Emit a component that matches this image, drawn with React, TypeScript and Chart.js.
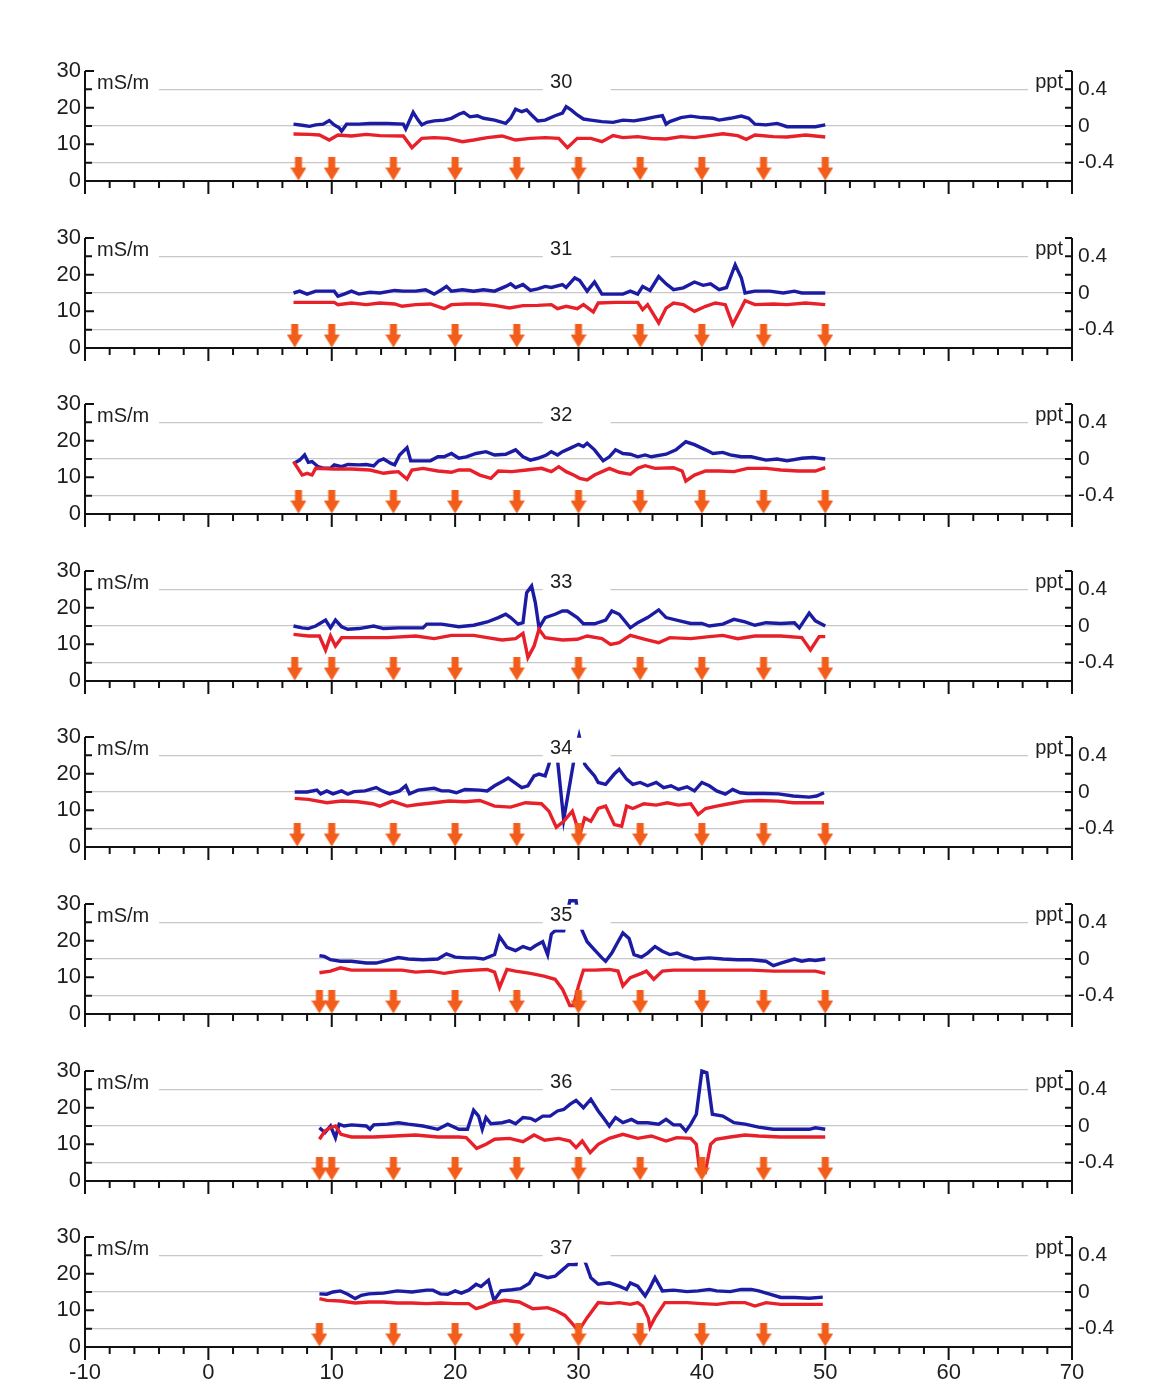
import React, { useEffect, useRef } from 'react';
import { Chart, registerables } from 'chart.js';

Chart.register(...registerables);

type Pt = [number, number];

const PANEL_IDS = ['30', '31', '32', '33', '34', '35', '36', '37'];
const X_LABELS = [-10, 0, 10, 20, 30, 40, 50, 60, 70];
const LEFT_LABELS = [0, 10, 20, 30];
const RIGHT_LABELS = [-0.4, 0, 0.4];
const UNIT_LEFT = 'mS/m';
const UNIT_RIGHT = 'ppt';

// ---- Panel 30 ----
const BLUE_30: Pt[] = [[6.9,15.5],[7.6,15.2],[8.2,14.9],[8.7,15.3],[9.3,15.5],[9.8,16.5],[10.2,15.3],[10.6,14.5],[10.8,13.6],[11.2,15.5],[12.2,15.5],[13.1,15.7],[14.5,15.7],[15.8,15.5],[16.0,14.2],[16.6,18.7],[17.0,16.6],[17.3,15.3],[17.7,16.0],[18.3,16.4],[19.1,16.6],[19.7,17.1],[20.3,18.2],[20.7,18.7],[21.2,17.5],[21.8,17.8],[22.3,17.1],[23.2,16.6],[24.1,15.7],[24.5,17.1],[24.9,19.6],[25.4,18.9],[25.8,19.4],[26.2,18.0],[26.7,16.4],[27.3,16.6],[28.1,17.8],[28.7,18.5],[29.0,20.3],[29.4,19.4],[29.9,18.0],[30.4,16.9],[31.0,16.6],[31.9,16.2],[32.8,16.0],[33.6,16.6],[34.5,16.4],[35.4,16.9],[36.2,17.5],[36.8,17.8],[37.1,15.5],[37.4,16.2],[38.3,17.3],[39.1,17.7],[40.0,17.3],[40.9,17.1],[41.4,16.6],[42.3,17.1],[43.2,17.7],[43.8,17.1],[44.3,15.5],[45.2,15.3],[46.1,15.7],[46.9,14.8],[48.1,14.8],[49.2,14.8],[50.0,15.3]];
const RED_30: Pt[] = [[6.9,-0.087],[8.2,-0.091],[9.0,-0.098],[9.8,-0.153],[10.5,-0.098],[11.6,-0.109],[12.8,-0.091],[13.9,-0.105],[15.8,-0.109],[16.5,-0.236],[17.3,-0.135],[18.3,-0.127],[19.4,-0.135],[20.6,-0.171],[21.5,-0.153],[22.6,-0.127],[23.8,-0.109],[24.9,-0.153],[26.1,-0.135],[27.3,-0.127],[28.4,-0.135],[29.1,-0.236],[29.9,-0.135],[31.0,-0.135],[31.9,-0.171],[32.8,-0.105],[33.6,-0.127],[34.8,-0.116],[35.9,-0.135],[37.1,-0.142],[38.3,-0.116],[39.4,-0.127],[40.6,-0.105],[41.7,-0.084],[42.9,-0.105],[43.6,-0.145],[44.3,-0.098],[45.8,-0.116],[46.9,-0.12],[48.4,-0.098],[50.0,-0.12]];
const ARROWS_30 = [7.3, 10, 15, 20, 25, 30, 35, 40, 45, 50];

// ---- Panel 31 ----
const BLUE_31: Pt[] = [[6.9,15.0],[7.4,15.5],[8.0,14.7],[8.7,15.5],[10.2,15.5],[10.5,14.1],[11.0,14.7],[11.6,15.5],[12.2,14.7],[13.1,15.2],[13.9,15.0],[15.1,15.7],[15.8,15.5],[16.8,15.5],[17.6,15.9],[18.3,14.7],[18.9,15.9],[19.3,16.8],[19.7,15.5],[20.6,15.9],[21.5,15.5],[22.3,15.9],[23.2,15.5],[24.1,16.8],[24.5,17.5],[24.9,16.5],[25.5,17.3],[26.1,15.7],[26.7,16.1],[27.3,16.8],[27.8,16.5],[28.7,17.3],[29.0,16.5],[29.7,19.1],[30.1,18.4],[30.7,15.5],[31.3,18.0],[31.9,14.7],[32.7,14.7],[33.6,14.7],[34.2,15.5],[34.8,14.7],[35.2,16.8],[35.8,15.7],[36.5,19.5],[37.1,17.5],[37.7,15.9],[38.5,16.4],[39.4,18.0],[40.1,17.1],[40.7,17.5],[41.4,15.9],[42.0,16.5],[42.7,22.7],[43.2,19.1],[43.5,15.0],[44.3,15.5],[45.5,15.5],[46.6,15.0],[47.5,15.5],[48.1,15.0],[50.0,15.0]];
const RED_31: Pt[] = [[6.9,-0.102],[10.2,-0.102],[10.5,-0.127],[11.6,-0.109],[12.8,-0.127],[13.9,-0.109],[15.1,-0.12],[15.7,-0.145],[16.8,-0.127],[18.0,-0.12],[19.1,-0.171],[19.7,-0.127],[20.9,-0.12],[22.0,-0.12],[23.2,-0.135],[24.4,-0.164],[25.5,-0.138],[26.7,-0.135],[27.8,-0.127],[28.3,-0.171],[29.0,-0.145],[29.9,-0.171],[30.4,-0.127],[31.2,-0.207],[31.6,-0.109],[33.0,-0.102],[34.8,-0.102],[35.2,-0.182],[35.6,-0.127],[36.5,-0.327],[37.1,-0.164],[37.7,-0.109],[38.5,-0.127],[39.4,-0.2],[40.3,-0.145],[41.1,-0.109],[41.9,-0.127],[42.5,-0.345],[43.2,-0.164],[43.5,-0.084],[44.3,-0.127],[45.8,-0.12],[46.9,-0.127],[48.4,-0.109],[50.0,-0.127]];
const ARROWS_31 = [7, 10, 15, 20, 25, 30, 35, 40, 45, 50];

// ---- Panel 32 ----
const BLUE_32: Pt[] = [[6.9,13.8],[7.4,14.7],[7.8,16.1],[8.1,14.1],[8.4,14.3],[8.9,12.9],[9.3,12.5],[9.9,12.5],[10.2,13.4],[10.8,12.9],[11.3,13.5],[12.2,13.4],[12.8,13.5],[13.4,13.1],[13.8,14.5],[14.2,15.0],[14.8,13.8],[15.1,13.4],[15.5,16.1],[16.1,18.1],[16.4,14.5],[17.4,14.5],[18.0,14.5],[18.6,15.6],[19.1,15.6],[19.7,16.5],[20.3,15.2],[20.9,15.6],[21.7,16.5],[22.5,17.0],[23.2,16.1],[24.1,16.3],[24.9,17.5],[25.5,15.6],[26.1,14.7],[26.7,15.2],[27.4,16.1],[27.8,17.0],[28.3,16.1],[28.7,17.0],[29.3,17.9],[30.0,19.0],[30.4,18.4],[30.7,19.3],[31.3,17.5],[32.0,14.5],[32.5,15.6],[33.0,17.5],[33.6,16.5],[34.2,16.3],[34.8,15.6],[35.4,16.1],[35.9,15.6],[37.1,16.3],[37.9,17.5],[38.7,19.7],[39.4,18.9],[40.3,17.5],[40.9,16.5],[41.7,16.8],[42.3,16.1],[43.2,15.6],[44.0,15.6],[45.2,14.7],[46.1,15.0],[46.9,14.5],[48.1,15.2],[49.0,15.4],[50.0,15.0]];
const RED_32: Pt[] = [[6.9,-0.029],[7.6,-0.175],[8.0,-0.156],[8.4,-0.175],[8.7,-0.102],[10.2,-0.109],[11.6,-0.109],[13.1,-0.12],[14.2,-0.156],[14.8,-0.145],[15.4,-0.138],[16.1,-0.218],[16.5,-0.12],[17.4,-0.102],[18.6,-0.131],[19.7,-0.145],[20.3,-0.12],[21.2,-0.12],[22.0,-0.175],[22.9,-0.211],[23.5,-0.131],[24.6,-0.138],[25.8,-0.12],[27.0,-0.102],[27.8,-0.138],[28.4,-0.084],[29.0,-0.138],[29.6,-0.175],[30.1,-0.211],[30.7,-0.229],[31.3,-0.175],[32.5,-0.102],[33.3,-0.145],[34.2,-0.167],[34.8,-0.102],[35.4,-0.073],[36.2,-0.102],[37.7,-0.095],[38.4,-0.131],[38.7,-0.24],[39.4,-0.175],[40.3,-0.131],[41.4,-0.131],[42.6,-0.138],[43.7,-0.102],[45.2,-0.102],[46.4,-0.12],[47.8,-0.131],[49.2,-0.131],[50.0,-0.095]];
const ARROWS_32 = [7.3, 10, 15, 20, 25, 30, 35, 40, 45, 50];

// ---- Panel 33 ----
const BLUE_33: Pt[] = [[6.9,15.0],[7.6,14.5],[8.1,14.3],[8.7,15.0],[9.5,16.6],[9.9,14.5],[10.3,16.6],[10.8,14.8],[11.3,14.1],[12.2,14.3],[13.4,15.0],[14.2,14.3],[15.4,14.5],[17.4,14.5],[17.7,15.5],[18.9,15.5],[20.3,14.8],[21.5,15.2],[22.6,16.1],[23.5,17.3],[24.1,18.2],[24.5,17.3],[25.1,15.5],[25.5,15.9],[25.8,24.1],[26.2,25.9],[26.5,21.4],[26.8,14.5],[27.3,17.3],[28.1,18.2],[28.7,19.1],[29.1,19.1],[29.9,17.3],[30.4,15.6],[31.3,15.6],[32.2,16.6],[32.7,19.1],[33.3,18.2],[34.2,14.5],[34.8,15.9],[35.6,17.3],[36.5,19.4],[37.1,17.3],[38.2,16.4],[39.1,15.7],[40.0,15.7],[40.6,15.0],[41.7,15.5],[42.6,16.8],[43.5,16.1],[44.3,15.2],[45.2,15.9],[46.4,15.7],[47.5,15.9],[47.9,14.5],[48.7,18.5],[49.2,16.4],[50.0,15.0]];
const RED_33: Pt[] = [[6.9,-0.091],[8.1,-0.109],[9.0,-0.109],[9.5,-0.262],[9.9,-0.109],[10.3,-0.218],[10.8,-0.127],[12.2,-0.127],[14.5,-0.127],[16.8,-0.109],[18.3,-0.138],[19.7,-0.102],[21.5,-0.102],[22.6,-0.127],[23.8,-0.153],[24.9,-0.138],[25.5,-0.08],[25.9,-0.345],[26.4,-0.218],[26.8,-0.036],[27.3,-0.127],[28.7,-0.153],[29.9,-0.145],[30.7,-0.109],[31.9,-0.138],[32.6,-0.2],[33.3,-0.182],[34.2,-0.102],[35.4,-0.145],[36.5,-0.182],[37.4,-0.127],[39.1,-0.138],[40.6,-0.116],[41.7,-0.102],[42.9,-0.138],[44.3,-0.109],[46.4,-0.109],[48.1,-0.127],[48.8,-0.262],[49.5,-0.116],[50.0,-0.116]];
const ARROWS_33 = [7, 10, 15, 20, 25, 30, 35, 40, 45, 50];

// ---- Panel 34 ----
const BLUE_34: Pt[] = [[7.0,15.0],[8.0,15.0],[8.8,15.5],[9.1,14.5],[9.6,15.3],[10.1,14.5],[10.8,15.3],[11.3,14.4],[11.8,15.1],[12.7,15.3],[13.6,16.2],[14.1,15.3],[14.7,14.5],[15.5,15.3],[16.0,16.7],[16.3,14.5],[17.0,15.5],[18.3,16.0],[18.9,15.3],[19.5,15.3],[20.1,14.8],[20.8,15.7],[22.0,15.5],[22.6,15.3],[23.2,16.7],[23.9,18.0],[24.3,18.8],[24.8,17.6],[25.4,16.2],[25.9,16.7],[26.4,19.4],[26.8,19.9],[27.3,19.4],[27.6,22.5],[27.9,27.0],[28.2,27.0],[28.8,7.5],[29.8,27.0],[30.05,30.4],[30.3,27.0],[30.5,22.6],[30.7,21.7],[31.3,19.4],[31.6,17.6],[32.2,17.1],[32.9,19.9],[33.3,21.2],[33.9,18.5],[34.4,17.1],[35.0,17.6],[35.6,16.7],[36.3,17.6],[36.9,16.2],[37.5,16.7],[38.1,15.7],[38.8,16.4],[39.4,15.3],[40.0,17.6],[40.6,16.7],[41.2,15.3],[41.9,14.4],[42.5,15.7],[43.1,14.8],[43.7,14.6],[45.0,14.6],[46.2,14.5],[47.4,13.9],[48.7,13.6],[49.3,13.9],[49.9,14.8]];
const RED_34: Pt[] = [[7.0,-0.07],[8.1,-0.081],[9.6,-0.117],[10.8,-0.099],[12.1,-0.106],[13.3,-0.128],[13.9,-0.154],[14.9,-0.099],[16.1,-0.154],[17.0,-0.136],[18.3,-0.117],[19.5,-0.099],[20.8,-0.106],[22.0,-0.092],[23.2,-0.154],[24.5,-0.165],[25.7,-0.117],[27.0,-0.128],[27.6,-0.209],[28.2,-0.385],[28.8,-0.319],[29.5,-0.209],[30.1,-0.466],[30.5,-0.283],[31.0,-0.319],[31.6,-0.18],[32.2,-0.154],[32.9,-0.356],[33.5,-0.374],[33.9,-0.154],[34.4,-0.18],[35.3,-0.128],[36.3,-0.143],[37.2,-0.117],[38.1,-0.143],[39.1,-0.128],[39.7,-0.246],[40.3,-0.18],[41.2,-0.154],[42.2,-0.128],[43.4,-0.099],[44.6,-0.092],[46.2,-0.099],[47.4,-0.117],[48.7,-0.117],[49.9,-0.117]];
const ARROWS_34 = [7.2, 10, 15, 20, 25, 30, 35, 40, 45, 50];

// ---- Panel 35 ----
const BLUE_35: Pt[] = [[9.0,15.9],[9.4,15.7],[9.9,14.8],[10.7,14.4],[11.6,14.4],[12.8,13.9],[13.6,13.9],[14.5,14.6],[15.4,15.4],[16.2,15.0],[17.4,14.8],[18.6,15.0],[19.3,16.4],[20.0,15.5],[20.9,15.3],[21.6,15.3],[22.3,15.0],[23.2,16.2],[23.6,21.1],[24.2,18.2],[24.9,17.3],[25.5,18.4],[26.1,17.7],[26.5,18.6],[27.1,19.7],[27.5,16.2],[27.8,21.8],[28.1,22.7],[28.8,22.7],[29.0,26.0],[29.3,30.9],[29.8,30.9],[30.0,26.0],[30.3,22.7],[30.7,19.7],[31.3,17.5],[31.9,15.3],[32.2,14.4],[32.7,16.6],[33.2,19.7],[33.6,22.1],[34.1,20.6],[34.5,16.2],[35.1,15.5],[35.6,16.6],[36.2,18.4],[36.8,17.1],[37.4,16.2],[38.0,16.6],[38.5,15.9],[39.4,15.0],[40.6,15.3],[41.7,15.0],[42.9,14.8],[44.0,14.8],[45.2,14.4],[45.8,13.2],[46.4,13.9],[47.5,15.0],[48.1,14.4],[48.7,14.8],[49.2,14.6],[50.0,15.0]];
const RED_35: Pt[] = [[9.0,-0.15],[9.9,-0.132],[10.7,-0.096],[11.6,-0.121],[13.4,-0.121],[14.5,-0.121],[15.7,-0.121],[16.8,-0.143],[18.0,-0.132],[19.1,-0.157],[20.3,-0.132],[21.5,-0.121],[22.6,-0.114],[23.2,-0.143],[23.6,-0.311],[24.2,-0.114],[24.9,-0.132],[26.1,-0.157],[27.2,-0.186],[28.1,-0.221],[28.7,-0.329],[29.3,-0.507],[29.6,-0.507],[30.0,-0.293],[30.4,-0.121],[31.3,-0.121],[32.5,-0.114],[33.2,-0.132],[33.6,-0.293],[34.2,-0.204],[35.1,-0.157],[35.5,-0.132],[36.1,-0.221],[36.8,-0.132],[37.7,-0.121],[39.4,-0.121],[40.6,-0.121],[42.3,-0.121],[44.0,-0.121],[45.8,-0.132],[47.5,-0.132],[49.2,-0.132],[50.0,-0.157]];
const ARROWS_35 = [9, 10, 15, 20, 25, 30, 35, 40, 45, 50];

// ---- Panel 36 ----
const BLUE_36: Pt[] = [[9.0,14.5],[9.45,13.2],[9.9,15.0],[10.3,11.8],[10.6,15.5],[11.0,15.0],[11.6,15.3],[12.8,15.0],[13.1,14.1],[13.4,15.3],[14.5,15.5],[15.4,15.9],[16.2,15.5],[17.4,15.0],[18.6,14.1],[19.4,15.5],[20.3,14.1],[21.0,14.1],[21.5,19.3],[21.9,17.7],[22.2,14.1],[22.5,17.3],[22.9,15.6],[23.8,15.9],[24.4,16.4],[24.9,15.6],[25.5,17.3],[26.1,17.1],[26.5,16.4],[27.1,17.7],[27.7,17.7],[28.3,19.1],[28.8,19.5],[29.3,20.9],[29.8,22.0],[30.4,20.0],[31.0,22.3],[31.6,19.1],[32.0,17.3],[32.5,15.0],[33.0,17.3],[33.6,15.9],[34.3,16.8],[34.8,15.9],[35.6,15.9],[36.5,15.5],[37.1,16.8],[37.7,15.3],[38.25,15.3],[38.7,13.6],[39.1,15.5],[39.55,18.2],[40.0,30.0],[40.4,29.5],[40.85,18.2],[41.7,17.7],[42.6,15.9],[43.5,15.5],[44.6,14.7],[45.8,14.1],[47.5,14.1],[48.7,14.1],[49.2,14.5],[50.0,14.1]];
const RED_36: Pt[] = [[9.0,-0.145],[9.45,-0.055],[9.9,-0.018],[10.3,0.0],[10.75,-0.091],[11.6,-0.12],[13.4,-0.12],[15.1,-0.109],[16.8,-0.098],[18.6,-0.12],[20.3,-0.12],[20.9,-0.127],[21.75,-0.244],[22.5,-0.2],[23.2,-0.145],[24.4,-0.135],[25.5,-0.171],[26.4,-0.098],[27.25,-0.156],[28.4,-0.135],[29.3,-0.164],[29.8,-0.236],[30.3,-0.164],[30.95,-0.291],[31.6,-0.2],[32.5,-0.135],[33.6,-0.091],[34.8,-0.135],[35.9,-0.109],[37.1,-0.164],[37.96,-0.127],[39.1,-0.135],[39.55,-0.2],[39.84,-0.509],[40.27,-0.509],[40.71,-0.2],[41.14,-0.145],[42.3,-0.12],[43.5,-0.098],[44.6,-0.109],[46.35,-0.12],[48.1,-0.12],[50.0,-0.12]];
const ARROWS_36 = [9, 10, 15, 20, 25, 30, 35, 40, 45, 50];

// ---- Panel 37 ----
const BLUE_37: Pt[] = [[9.0,14.5],[9.6,14.4],[10.1,15.0],[10.7,15.3],[11.3,14.4],[11.9,13.2],[12.4,14.1],[13.0,14.5],[14.2,14.7],[15.3,15.3],[16.5,15.0],[17.7,15.5],[18.2,15.5],[18.8,14.5],[19.4,14.4],[20.0,15.3],[20.5,14.7],[21.1,15.5],[21.7,17.1],[22.1,16.5],[22.7,18.2],[23.15,12.7],[23.7,15.3],[24.6,15.6],[25.3,15.9],[26.0,17.3],[26.5,20.0],[26.9,19.5],[27.5,18.9],[28.1,19.3],[28.65,20.9],[29.2,22.5],[29.8,22.5],[30.0,26.0],[30.3,25.0],[30.6,22.7],[31.0,18.9],[31.6,17.1],[32.5,17.5],[33.3,16.6],[33.9,15.7],[34.2,17.5],[34.8,16.6],[35.4,13.9],[35.8,16.2],[36.2,18.9],[36.8,15.3],[37.7,15.5],[38.8,15.1],[39.7,15.3],[40.6,15.7],[41.2,15.3],[42.3,15.1],[43.2,15.7],[44.0,15.7],[44.6,15.3],[45.5,14.4],[46.4,13.5],[47.5,13.5],[48.7,13.3],[49.8,13.6]];
const RED_37: Pt[] = [[9.0,-0.073],[9.6,-0.091],[10.7,-0.098],[11.9,-0.12],[13.0,-0.109],[14.2,-0.109],[15.3,-0.12],[16.5,-0.12],[17.7,-0.127],[18.8,-0.12],[20.0,-0.127],[21.1,-0.127],[21.7,-0.182],[22.3,-0.156],[22.9,-0.12],[24.0,-0.091],[25.2,-0.109],[26.3,-0.182],[27.5,-0.171],[28.1,-0.2],[28.9,-0.255],[29.5,-0.345],[30.0,-0.425],[30.7,-0.28],[31.6,-0.116],[32.5,-0.127],[33.3,-0.116],[34.2,-0.135],[34.8,-0.116],[35.2,-0.153],[35.65,-0.28],[35.8,-0.382],[36.2,-0.28],[37.0,-0.116],[37.7,-0.116],[38.8,-0.116],[40.0,-0.127],[41.2,-0.135],[42.3,-0.116],[43.5,-0.116],[44.3,-0.153],[45.2,-0.116],[46.4,-0.135],[47.5,-0.135],[48.7,-0.135],[49.8,-0.135]];
const ARROWS_37 = [9, 15, 20, 25, 30, 35, 40, 45, 50];

const BLUE_SERIES = [BLUE_30, BLUE_31, BLUE_32, BLUE_33, BLUE_34, BLUE_35, BLUE_36, BLUE_37];
const RED_SERIES = [RED_30, RED_31, RED_32, RED_33, RED_34, RED_35, RED_36, RED_37];
const ARROW_SERIES = [ARROWS_30, ARROWS_31, ARROWS_32, ARROWS_33, ARROWS_34, ARROWS_35, ARROWS_36, ARROWS_37];

const ARROW_LEVEL = 3.4; // mS/m level where the marker arrows sit

const FONT = '"Liberation Sans", Arial, Helvetica, sans-serif';
const TEXT = '#1e1e1e';
const BLUE = '#1b1ba3';
const RED = '#e8202a';
const ORANGE = '#f35d1b';
const GRID = '#c8c8c8';

const CANVAS_W = 1157;
const PAD_TOP = 20;
const PLOT_H = 110;
const PANEL_STEP = 166.6;
const FIRST_TOP = 71;

function makeArrow(): HTMLCanvasElement {
  const c = document.createElement('canvas');
  c.width = 16;
  c.height = 24;
  const g = c.getContext('2d')!;
  g.fillStyle = ORANGE;
  g.fillRect(4.5, 0, 7, 13);
  g.beginPath();
  g.moveTo(0, 11);
  g.lineTo(16, 11);
  g.lineTo(8, 24);
  g.closePath();
  g.fill();
  return c;
}

const decorPlugin = {
  id: 'panelDecor',
  afterDatasetsDraw(chart: any, _args: any, opts: any) {
    const { ctx, chartArea: a, scales } = chart;
    const x = scales.x;
    const y = scales.y;
    const y1 = scales.y1;
    ctx.save();

    // white label boxes (they mask grid lines and data, as in the figure)
    ctx.fillStyle = '#ffffff';
    const yTop = y.getPixelForValue(29.8);
    const yBot = y.getPixelForValue(23.0);
    ctx.fillRect(a.left + 2, yTop, 72, yBot - yTop);
    const tx0 = x.getPixelForValue(27.1);
    const tx1 = x.getPixelForValue(32.6);
    ctx.fillRect(tx0, yTop, tx1 - tx0, yBot - yTop);
    ctx.fillRect(a.right - 44, yTop, 42, yBot - yTop);

    // texts
    ctx.fillStyle = TEXT;
    ctx.textBaseline = 'middle';
    ctx.font = `20px ${FONT}`;
    ctx.textAlign = 'left';
    ctx.fillText(UNIT_LEFT, a.left + 12, y.getPixelForValue(26.6));
    ctx.textAlign = 'right';
    ctx.fillText(UNIT_RIGHT, a.right - 9, y.getPixelForValue(26.9));
    ctx.font = `20px ${FONT}`;
    ctx.textAlign = 'center';
    ctx.fillText(opts.title, x.getPixelForValue(28.6), y.getPixelForValue(27.0));

    // axes
    ctx.strokeStyle = '#111';
    ctx.lineWidth = 2;
    ctx.lineCap = 'butt';
    const y0 = y.getPixelForValue(0);
    const y30 = y.getPixelForValue(30);
    ctx.beginPath();
    ctx.moveTo(a.left, y0 + 1);
    ctx.lineTo(a.left, y30);
    ctx.moveTo(a.right, y1.getPixelForValue(-0.6) + 1);
    ctx.lineTo(a.right, y1.getPixelForValue(0.6));
    ctx.moveTo(a.left - 1, y0);
    ctx.lineTo(a.right + 1, y0);
    ctx.stroke();

    ctx.beginPath();
    // left ticks (inward)
    for (let v = 0; v <= 30; v += 5) {
      const py = y.getPixelForValue(v);
      ctx.moveTo(a.left, py);
      ctx.lineTo(a.left + (v % 10 === 0 ? 9 : 7), py);
    }
    // right ticks (inward)
    for (let i = -3; i <= 3; i++) {
      const py = y1.getPixelForValue(i * 0.2);
      ctx.moveTo(a.right, py);
      ctx.lineTo(a.right - 7, py);
    }
    // x ticks (outward)
    for (let v = -10; v <= 70; v += 2) {
      const px = x.getPixelForValue(v);
      ctx.moveTo(px, y0);
      ctx.lineTo(px, y0 + (v % 10 === 0 ? 13 : 7));
    }
    ctx.stroke();
    ctx.restore();
  },
};

function Panel({ index, last }: { index: number; last: boolean }) {
  const ref = useRef<HTMLCanvasElement>(null);
  const H = last ? 205 : 168;
  const top = Math.round(FIRST_TOP + PANEL_STEP * index - PAD_TOP);

  useEffect(() => {
    const canvas = ref.current!;
    const arrowImg = makeArrow();
    const blue = BLUE_SERIES[index].map(([vx, vy]) => ({ x: vx, y: vy }));
    const red = RED_SERIES[index].map(([vx, vy]) => ({ x: vx, y: vy }));
    const arrows = ARROW_SERIES[index].map((vx) => ({ x: vx, y: ARROW_LEVEL }));

    const chart = new Chart(canvas, {
      type: 'line',
      data: {
        datasets: [
          {
            type: 'scatter',
            label: 'markers',
            data: arrows,
            yAxisID: 'y',
            pointStyle: arrowImg as any,
            pointRadius: 8,
            showLine: false,
            clip: false as any,
          } as any,
          {
            label: 'ppt',
            data: red,
            yAxisID: 'y1',
            borderColor: RED,
            borderWidth: 3.4,
            pointRadius: 0,
            tension: 0,
            fill: false,
            clip: false as any,
          },
          {
            label: 'mS/m',
            data: blue,
            yAxisID: 'y',
            borderColor: BLUE,
            borderWidth: 3.4,
            pointRadius: 0,
            tension: 0,
            fill: false,
            clip: false as any,
          },
        ],
      },
      options: {
        responsive: false,
        animation: false,
        events: [],
        layout: { padding: { top: PAD_TOP, left: 0, right: 0, bottom: 0 } },
        plugins: {
          legend: { display: false },
          tooltip: { enabled: false },
          panelDecor: { title: PANEL_IDS[index] },
        } as any,
        scales: {
          x: {
            type: 'linear',
            position: 'bottom',
            min: -10,
            max: 70,
            afterFit: (s: any) => {
              s.height = H - PAD_TOP - PLOT_H;
            },
            afterBuildTicks: (s: any) => {
              s.ticks = X_LABELS.map((v) => ({ value: v }));
            },
            grid: { display: false, drawTicks: false },
            border: { display: false },
            ticks: {
              display: last,
              autoSkip: false,
              maxRotation: 0,
              padding: 13,
              color: TEXT,
              font: { family: FONT, size: 22 },
              callback: (v: any) => String(v),
            },
          },
          y: {
            type: 'linear',
            position: 'left',
            min: 0,
            max: 30,
            afterFit: (s: any) => {
              s.width = 85;
            },
            afterBuildTicks: (s: any) => {
              s.ticks = LEFT_LABELS.map((v) => ({ value: v }));
            },
            grid: { display: false, drawTicks: false },
            border: { display: false },
            ticks: {
              autoSkip: false,
              padding: 4,
              color: TEXT,
              font: { family: FONT, size: 22 },
              callback: (v: any) => String(v),
            },
          },
          y1: {
            type: 'linear',
            position: 'right',
            min: -0.6,
            max: 0.6,
            afterFit: (s: any) => {
              s.width = 85;
            },
            afterBuildTicks: (s: any) => {
              s.ticks = RIGHT_LABELS.map((v) => ({ value: v }));
            },
            grid: {
              display: true,
              drawTicks: false,
              lineWidth: 1.2,
              color: GRID,
            },
            border: { display: false },
            ticks: {
              autoSkip: false,
              padding: 6,
              color: TEXT,
              font: { family: FONT, size: 21 },
              callback: (v: any) => String(v),
            },
          },
        },
      },
      plugins: [decorPlugin],
    } as any);
    return () => chart.destroy();
  }, [index, last, H]);

  return (
    <canvas
      ref={ref}
      width={CANVAS_W}
      height={H}
      style={{ position: 'absolute', left: 0, top, width: CANVAS_W, height: H }}
    />
  );
}

export default function App() {
  return (
    <div
      style={{
        position: 'absolute',
        left: 0,
        top: 0,
        width: CANVAS_W,
        height: 1398,
        background: '#ffffff',
        overflow: 'hidden',
      }}
    >
      {PANEL_IDS.map((id, i) => (
        <Panel key={id} index={i} last={i === PANEL_IDS.length - 1} />
      ))}
    </div>
  );
}
